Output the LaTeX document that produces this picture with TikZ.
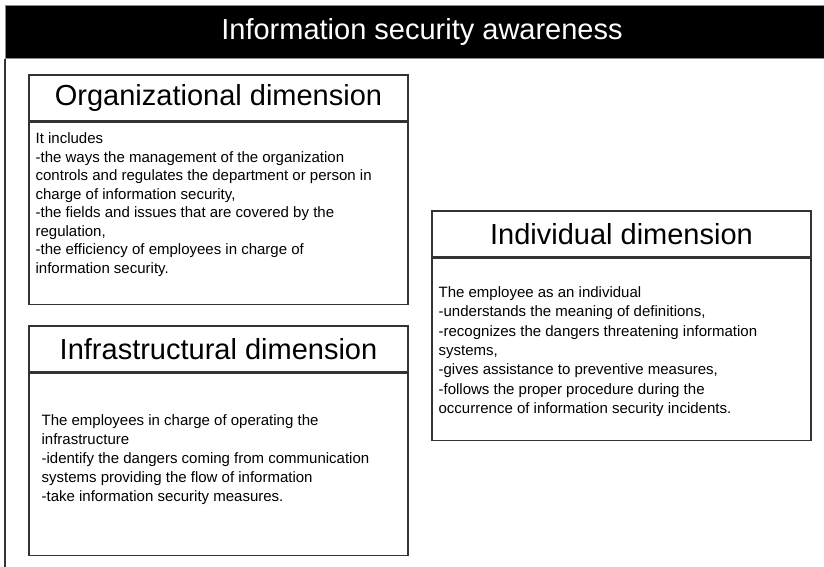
\documentclass[tikz,border=0pt]{standalone}
\usepackage{fontspec}
\setmainfont{Liberation Sans}
\usetikzlibrary{positioning}

\begin{document}
\begin{tikzpicture}[x=1pt,y=-1pt,
    framebox/.style={draw=black!80,line width=1.1pt},
    titlebox/.style={framebox,minimum width=379pt,minimum height=46pt,inner sep=0pt,font=\fontsize{29}{32}\selectfont},
    bodybox/.style={framebox,minimum width=379pt,minimum height=182pt,inner sep=0pt},
    bodytext/.style={anchor=north west,align=left,inner sep=0pt,font=\fontsize{15}{#1}\selectfont},
    bodytext/.default=18.5]
      \useasboundingbox (0,0) rectangle (824,566);
      \node[fill=black,draw=black!45,line width=1pt,anchor=north west,minimum width=833pt,minimum height=53pt,
            text=white,font=\fontsize{29}{32}\selectfont] (bar) at (5,5) {Information security awareness};
      \draw[framebox] (bar.south west) -- (bar.south west |- 0,570);
      % organizational
      \node[titlebox] (orgtitle) at (218.5,98) {Organizational dimension};
      \node[bodybox,below=0pt of orgtitle] (orgbody) {};
      \node[bodytext] (orgtext) at ([xshift=7pt,yshift=-11pt]orgbody.north west)
        {It includes\\-the ways the management of the organization\\controls and regulates the department or person in\\charge of information security,\\-the fields and issues that are covered by the\\regulation,\\-the efficiency of employees in charge of\\information security.};
      % infrastructural
      \node[titlebox] (inftitle) at (218.5,349) {Infrastructural dimension};
      \node[bodybox,below=0pt of inftitle] (infbody) {};
      \node[bodytext=19] (inftext) at ([xshift=13pt,yshift=-42pt]infbody.north west)
        {The employees in charge of operating the\\infrastructure\\-identify the dangers coming from communication\\systems providing the flow of information\\-take information security measures.};
      % individual
      \node[titlebox] (indtitle) at (621.5,234) {Individual dimension};
      \node[bodybox,below=0pt of indtitle] (indbody) {};
      \node[bodytext=19.3] (indtext) at ([xshift=7pt,yshift=-29pt]indbody.north west)
        {The employee as an individual\\-understands the meaning of definitions,\\-recognizes the dangers threatening information\\systems,\\-gives assistance to preventive measures,\\-follows the proper procedure during the\\occurrence of information security incidents.};
\end{tikzpicture}
\end{document}
